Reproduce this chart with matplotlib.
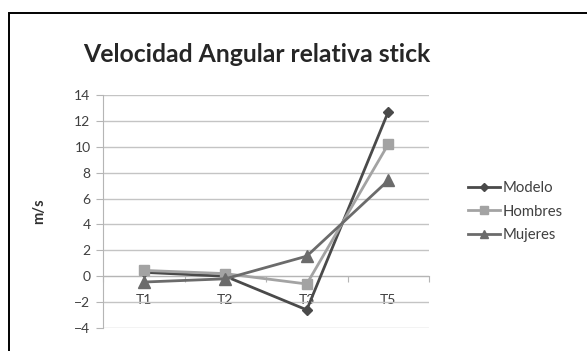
import matplotlib
matplotlib.use("Agg")
import matplotlib.pyplot as plt
from matplotlib.patches import Rectangle
from matplotlib.ticker import FixedLocator, NullFormatter

plt.rcParams['font.family'] = ['Lato', 'DejaVu Sans']

categories = ["T1", "T2", "T3", "T5"]
modelo = [0.3, 0.0, -2.6, 12.7]
hombres = [0.45, 0.2, -0.6, 10.2]
mujeres = [-0.45, -0.2, 1.55, 7.4]
series_names = ["Modelo", "Hombres", "Mujeres"]
title = "Velocidad Angular relativa stick"
ylabel = "m/s"
yticks = [-4, -2, 0, 2, 4, 6, 8, 10, 12, 14]

fig = plt.figure(figsize=(5.87, 3.51), dpi=100)
fig.patch.set_facecolor("white")

# outer frame
fig.add_artist(Rectangle((9/587, -0.1), 1.2, 1 - 13/351 + 0.1, transform=fig.transFigure,
                         fill=False, edgecolor="black", linewidth=1.4))

ax = fig.add_axes([103/587, 1 - 328/351, 326/587, 233/351])
x = list(range(len(categories)))
styles = [
    (modelo, "#4a4a4a", "D", 5.5),
    (hombres, "#a3a3a3", "s", 7.5),
    (mujeres, "#6b6b6b", "^", 8),
]
for (vals, col, mk, ms), name in zip(styles, series_names):
    ax.plot(x, vals, color=col, marker=mk, markersize=ms, linewidth=2.0,
            label=name, zorder=3)

ax.set_xlim(-0.5, len(categories) - 0.5)
ax.set_ylim(-4, 14)
ax.set_yticks(yticks)
ax.yaxis.grid(True, color="#c4c4c4", linewidth=1.0)
ax.set_axisbelow(True)
for s in ["top", "right"]:
    ax.spines[s].set_visible(False)
ax.spines["left"].set_color("#b5b5b5")
ax.spines["bottom"].set_color("#b5b5b5")
ax.spines["bottom"].set_position(("data", 0))
ax.tick_params(axis="y", colors="#b5b5b5", length=5, labelcolor="#404040",
               labelsize=10, pad=4)

# x ticks: boundaries as major ticks, categories as label positions
ax.xaxis.set_major_locator(FixedLocator([i - 0.5 for i in range(len(categories) + 1)]))
ax.xaxis.set_major_formatter(NullFormatter())
ax.xaxis.set_minor_locator(FixedLocator(x))
ax.set_xticklabels(categories, minor=True)
ax.tick_params(axis="x", which="major", length=4, colors="#b5b5b5", direction="out")
ax.tick_params(axis="x", which="minor", length=0, pad=13, labelcolor="#404040",
               labelsize=10)

ax.set_ylabel(ylabel, fontsize=10.5, fontweight="bold", color="#303030", labelpad=20)

fig.text(257/587, 1 - 55/351, title, fontsize=17.8, fontweight="bold",
         color="#262626", ha="center", va="center")

leg = ax.legend(loc="center left", bbox_to_anchor=(1.08, 0.5), frameon=False,
                fontsize=10.7, handlelength=2.1, handletextpad=0.2,
                labelspacing=0.65, markerscale=0.8)
for t in leg.get_texts():
    t.set_color("#404040")

fig.savefig("out.png", dpi=100)
